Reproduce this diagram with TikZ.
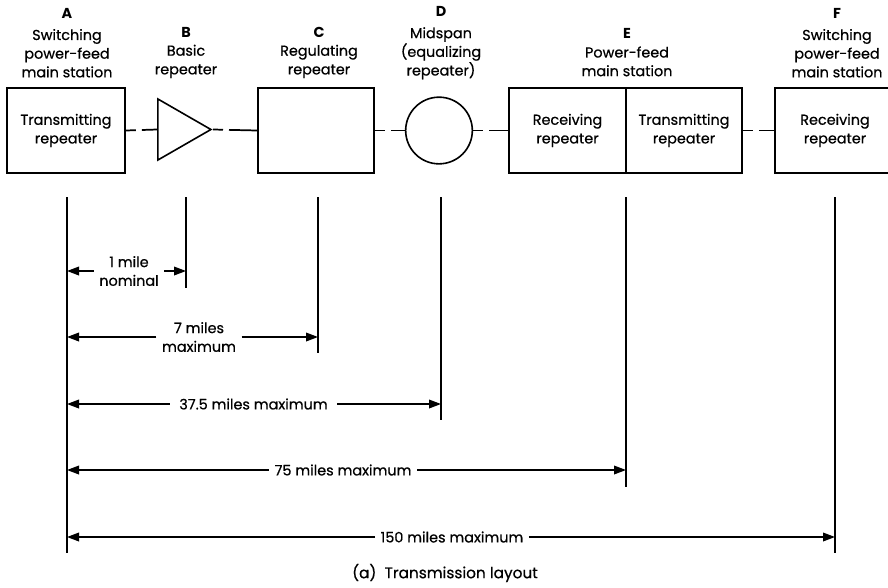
\documentclass[tikz,border=0pt]{standalone}
\usepackage{fontspec}
\setmainfont{Poppins}[UprightFeatures={FakeBold=0.6}]
\usetikzlibrary{arrows.meta,shapes.geometric}
\begin{document}
\begin{tikzpicture}[x=0.75pt,y=-0.75pt,
  txt/.style={font=\fontsize{10.8}{14}\selectfont},
  lbl/.style={txt,align=center,inner sep=0pt},
  blk/.style={txt,draw,line width=1.2pt,minimum width=#1,minimum height=63.75pt,align=center,inner sep=0pt},
  conn/.style={line width=1.3pt,dash pattern=on 7.5pt off 4.5pt on 60pt off 1pt},
  vline/.style={line width=1.1pt},
  dim/.style={line width=1.1pt,-{Triangle[length=9pt,width=6.5pt]}},
  dimtxt/.style={txt,align=center,inner sep=4pt}
]
\useasboundingbox (0,0) rectangle (888,587);
% headings
\node[lbl] (hA) at (67,43) {\textbf{A}\\[2pt]Switching\\power-feed\\main station};
\node[lbl] (hB) at (186,52.5) {\textbf{B}\\Basic\\repeater};
\node[lbl] (hC) at (319,52.5) {\textbf{C}\\Regulating\\repeater};
\node[lbl] (hD) at (441,43) {\textbf{D}\\[2pt]Midspan\\(equalizing\\repeater)};
\node[lbl] (hE) at (627,52.5) {\textbf{E}\\Power-feed\\main station};
\node[lbl] (hF) at (837,43) {\textbf{F}\\[2pt]Switching\\power-feed\\main station};
% blocks
\node[blk=88.5pt] (A) at (66,130.5) {Transmitting\\repeater};
\node[draw,line width=1.2pt,isosceles triangle,isosceles triangle stretches,
      minimum height=39.75pt,minimum width=45.75pt,inner sep=0pt,anchor=east] (B) at (213,129.5) {};
\node[blk=87pt] (C) at (316,130.5) {};
\node[draw,line width=1.2pt,circle,minimum size=50pt,inner sep=0pt] (D) at (439,130.5) {};
\node[blk=87.75pt] (E1) at (567.5,130.5) {Receiving\\repeater};
\node[blk=87pt] (E2) at (684,130.5) {Transmitting\\repeater};
\node[blk=90pt] (F) at (835,130.5) {Receiving\\repeater};
% connectors
\draw[conn] (A.east) -- (B.west);
\draw[conn] (B.east) -- (C.west);
\draw[conn] (C.east) -- (D.west);
\draw[conn] (D.east) -- (E1.west);
\draw[conn] (E2.east) -- (F.west);
% vertical reference lines
\coordinate (vA) at (67,197);  \coordinate (vAe) at (67,553);
\coordinate (vB) at (186,197); \coordinate (vBe) at (186,288);
\coordinate (vC) at (318,197); \coordinate (vCe) at (318,353);
\coordinate (vD) at (441,197); \coordinate (vDe) at (441,420);
\coordinate (vE) at (626,197); \coordinate (vEe) at (626,487);
\coordinate (vF) at (835,197); \coordinate (vFe) at (835,553);
\draw[vline] (vA) -- (vAe);
\draw[vline] (vB) -- (vBe);
\draw[vline] (vC) -- (vCe);
\draw[vline] (vD) -- (vDe);
\draw[vline] (vE) -- (vEe);
\draw[vline] (vF) -- (vFe);
% dimensions
\node[dimtxt] (d1) at (129,271) {1 mile\\nominal};
\draw[dim] (d1.west) -- (d1.west -| vA);
\draw[dim] (d1.east) -- (d1.east -| vB);
\node[dimtxt] (d2) at (199,337) {7 miles\\maximum};
\draw[dim] (d2.west) -- (d2.west -| vA);
\draw[dim] (d2.east) -- (d2.east -| vC);
\node[dimtxt,inner xsep=7pt] (d3) at (253.5,404) {37.5 miles maximum};
\draw[dim] (d3.west) -- (d3.west -| vA);
\draw[dim] (d3.east) -- (d3.east -| vD);
\node[dimtxt] (d4) at (343,470) {75 miles maximum};
\draw[dim] (d4.west) -- (d4.west -| vA);
\draw[dim] (d4.east) -- (d4.east -| vE);
\node[dimtxt] (d5) at (452,537) {150 miles maximum};
\draw[dim] (d5.west) -- (d5.west -| vA);
\draw[dim] (d5.east) -- (d5.east -| vF);
% caption
\node[txt,font=\fontsize{11.5}{14}\selectfont] (cap) at (445,573) {(a)\ \ Transmission layout};
\end{tikzpicture}
\end{document}
